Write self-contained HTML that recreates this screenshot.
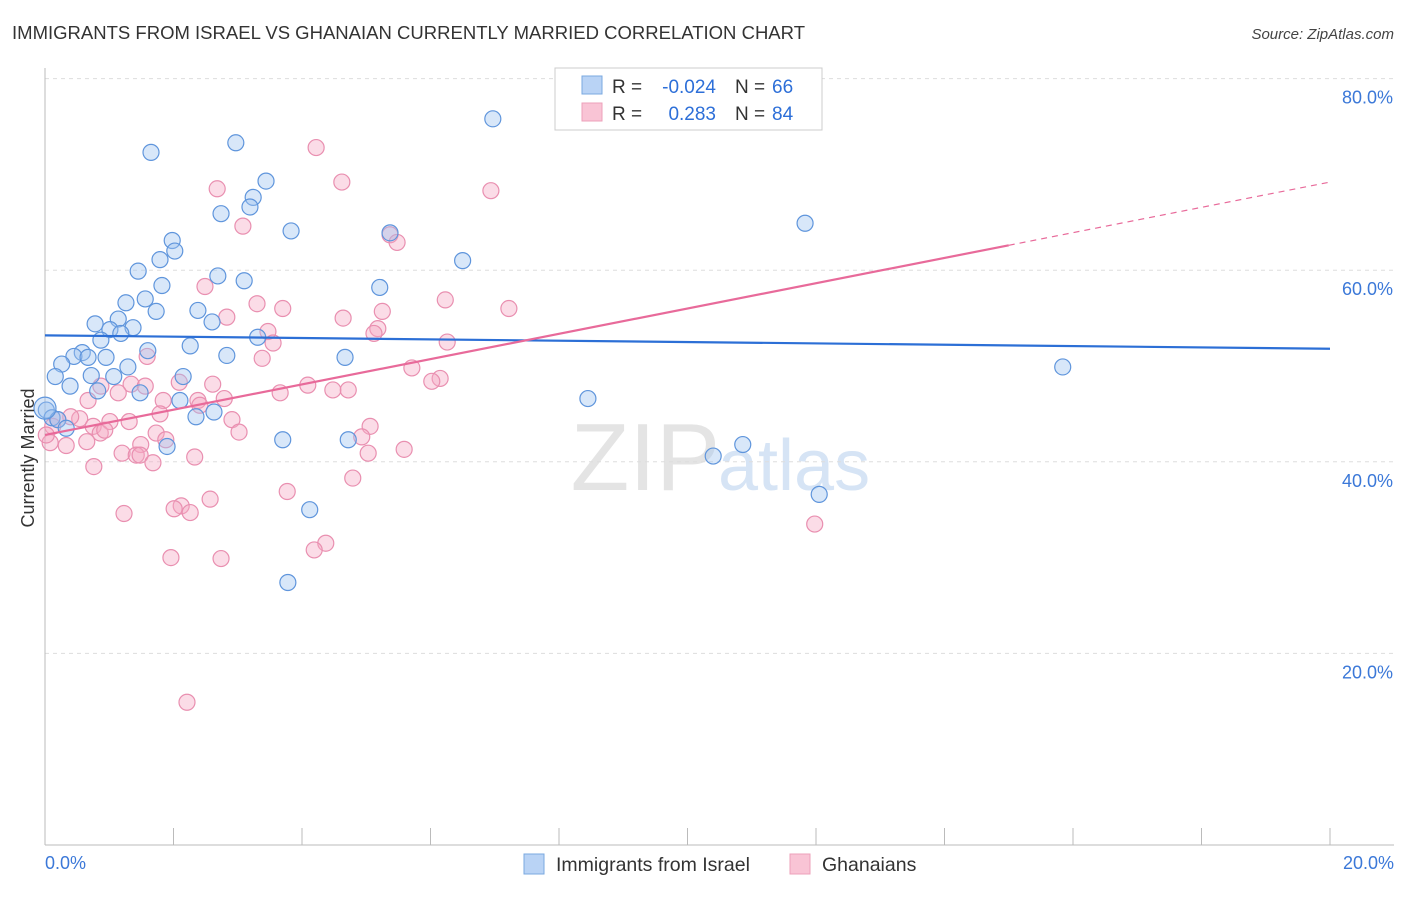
<!DOCTYPE html>
<html><head><meta charset="utf-8"><style>
body{margin:0;background:#fff;font-family:"Liberation Sans",sans-serif}
svg text{font-family:"Liberation Sans",sans-serif}
</style></head><body>
<svg id="c" width="1406" height="892" xmlns="http://www.w3.org/2000/svg">
<text x="12" y="39" font-size="18" fill="#333" textLength="793" lengthAdjust="spacingAndGlyphs">IMMIGRANTS FROM ISRAEL VS GHANAIAN CURRENTLY MARRIED CORRELATION CHART</text>
<text x="1394" y="39" font-size="15" fill="#444" font-style="italic" text-anchor="end">Source: ZipAtlas.com</text>
<text x="720" y="490" font-size="96" fill="#e4e4e4" font-family="Liberation Serif" text-anchor="end">ZIP</text>
<text x="718" y="490" font-size="72" fill="#d6e4f5">atlas</text>
<g id="grid"></g><g id="axes"></g><g id="marks"></g>
<text x="34" y="458" font-size="18" fill="#333" text-anchor="middle" transform="rotate(-90 34 458)">Currently Married</text>
<g>
<rect x="555" y="68" width="267" height="62" fill="#fff" stroke="#ccc"/>
<rect x="582" y="76" width="20" height="18" fill="#b9d3f5" stroke="#7aa8e0"/>
<rect x="582" y="103" width="20" height="18" fill="#f9c4d5" stroke="#eda0ba"/>
<text x="612" y="93" font-size="19" fill="#333">R =</text>
<text x="716" y="93" font-size="19" fill="#2d6fd8" text-anchor="end">-0.024</text>
<text x="735" y="93" font-size="19" fill="#333">N =</text>
<text x="772" y="93" font-size="19" fill="#2d6fd8">66</text>
<text x="612" y="120" font-size="19" fill="#333">R =</text>
<text x="716" y="120" font-size="19" fill="#2d6fd8" text-anchor="end">0.283</text>
<text x="735" y="120" font-size="19" fill="#333">N =</text>
<text x="772" y="120" font-size="19" fill="#2d6fd8">84</text>
</g>
<g>
<rect x="524" y="854" width="20" height="20" fill="#b9d3f5" stroke="#7aa8e0"/>
<text x="556" y="871" font-size="19.5" fill="#333">Immigrants from Israel</text>
<rect x="790" y="854" width="20" height="20" fill="#f9c4d5" stroke="#eda0ba"/>
<text x="822" y="871" font-size="19.5" fill="#333">Ghanaians</text>
</g>
</svg>
<script>
const yTicks=[20,40,60,80];
const yTickLabels=["20.0%","40.0%","60.0%","80.0%"];
const xTickLabels=["0.0%","20.0%"];
const israelX=[1.65,2.97,6.97,3.44,3.24,2.74,3.19,3.83,1.98,2.02,1.79,1.45,2.69,3.10,1.82,5.21,6.50,5.37,11.83,1.26,1.56,1.73,2.38,0.78,1.14,1.01,1.37,1.18,2.60,0.87,0.58,2.26,1.60,3.31,0.45,0.26,0.67,0.95,2.83,4.67,15.84,1.29,0.16,0.72,1.07,2.15,0.39,0.82,1.48,2.10,8.45,0.02,0.11,0.20,2.63,2.35,0.33,1.90,3.70,4.72,10.86,10.40,12.05,4.12,3.78,0.0];
const israelY=[72.3,73.3,75.8,69.3,67.6,65.9,66.6,64.1,63.1,62.0,61.1,59.9,59.4,58.9,58.4,58.2,61.0,63.9,64.9,56.6,57.0,55.7,55.8,54.4,54.9,53.8,54.0,53.4,54.6,52.7,51.4,52.1,51.6,53.0,51.0,50.2,50.9,50.9,51.1,50.9,49.9,49.9,48.9,49.0,48.9,48.9,47.9,47.4,47.2,46.4,46.6,45.4,44.6,44.4,45.2,44.7,43.5,41.6,42.3,42.3,41.8,40.6,36.6,35.0,27.4,45.6];
const ghanaX=[4.22,4.62,6.94,2.68,3.08,5.37,5.48,2.49,3.30,3.70,6.23,7.22,5.25,4.64,2.83,5.18,5.12,3.47,3.55,3.38,1.59,6.26,5.71,6.15,6.02,4.09,4.72,4.48,2.61,2.09,0.87,1.34,1.56,1.14,3.66,0.67,1.84,2.38,2.79,2.41,1.79,2.91,1.31,1.01,0.54,0.40,0.20,0.12,0.75,5.06,3.02,1.73,0.86,0.93,1.88,4.93,1.49,0.65,0.33,0.08,0.02,1.20,1.42,1.48,5.59,5.03,2.33,1.68,0.76,4.79,3.77,2.57,2.12,2.01,2.26,1.23,4.37,4.19,11.98,1.96,2.74,2.21];
const ghanaY=[72.8,69.2,68.3,68.5,64.6,63.7,62.9,58.3,56.5,56.0,56.9,56.0,55.7,55.0,55.1,53.9,53.4,53.6,52.4,50.8,51.0,52.5,49.8,48.7,48.4,48.0,47.5,47.5,48.1,48.3,47.9,48.1,47.9,47.2,47.2,46.4,46.4,46.4,46.6,45.9,45.0,44.4,44.2,44.2,44.5,44.7,44.4,43.7,43.7,43.7,43.1,43.0,43.0,43.3,42.3,42.6,41.8,42.1,41.7,42.0,42.8,40.9,40.7,40.7,41.3,40.9,40.5,39.9,39.5,38.3,36.9,36.1,35.4,35.1,34.7,34.6,31.5,30.8,33.5,30.0,29.9,14.9];
const trendIsrael=[53.2,51.8];
const trendGhana=[42.8,69.2];
const svg=document.getElementById('c');const NS="http://www.w3.org/2000/svg";
const X=v=>45+v*64.25, Y=v=>845-v*9.58;
function mk(t,a,p){const e=document.createElementNS(NS,t);for(const k in a)e.setAttribute(k,a[k]);p.appendChild(e);return e;}
const grid=document.getElementById('grid'),axes=document.getElementById('axes'),marks=document.getElementById('marks');
yTicks.forEach((t,i)=>{const l=mk('line',{x1:45,x2:1394,y1:Y(t),y2:Y(t),stroke:'#ddd','stroke-dasharray':'4,4'},grid);


const tx=mk('text',{x:1393,y:Y(t)+25,'font-size':18,fill:'#3b78d8','text-anchor':'end'},axes);tx.textContent=yTickLabels[i];

});
mk('line',{x1:45,x2:45,y1:68,y2:845,stroke:'#bbb'},axes);
mk('line',{x1:45,x2:1394,y1:845,y2:845,stroke:'#bbb'},axes);
for(let i=0;i<=10;i++){const t=mk('line',{x1:X(i*2),x2:X(i*2),y1:828,y2:845,stroke:'#bbb'},axes);

}
xTickLabels.forEach((s,i)=>{const t=mk('text',{x:i?1394:45,y:869,'font-size':18,fill:'#3b78d8','text-anchor':i?'end':'start'},axes);t.textContent=s;

});
function pts(xs,ys,fill,stroke,name){xs.forEach((x,i)=>{const c=mk('circle',{cx:X(x),cy:Y(ys[i]),r:(i==xs.length-1&&name=='israel-point')?11:8,fill:fill,'fill-opacity':0.4,stroke:stroke,'stroke-width':1.2},marks);

});}
pts(ghanaX,ghanaY,'#f5a8c2','#e98fb0','ghanaian-point');
pts(israelX,israelY,'#9ec2f0','#5f95dc','israel-point');
const bl=mk('line',{x1:X(0),y1:Y(trendIsrael[0]),x2:X(20),y2:Y(trendIsrael[1]),stroke:'#2c6fd6','stroke-width':2.2},marks);


const g=v=>trendGhana[0]+(trendGhana[1]-trendGhana[0])*v/20;
const pl=mk('line',{x1:X(0),y1:Y(g(0)),x2:X(15),y2:Y(g(15)),stroke:'#e86a9a','stroke-width':2.2},marks);


const pd=mk('line',{x1:X(15),y1:Y(g(15)),x2:X(20),y2:Y(g(20)),stroke:'#e86a9a','stroke-width':1.2,'stroke-dasharray':'6,5'},marks);


</script>
</body></html>
